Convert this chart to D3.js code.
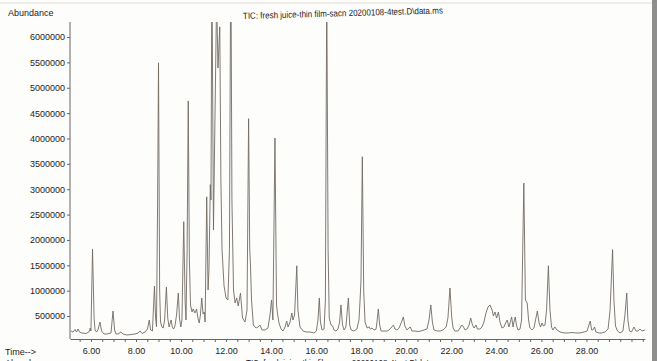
<!DOCTYPE html>
<html><head><meta charset="utf-8">
<script src="https://cdn.jsdelivr.net/npm/d3@7"></script>
<style>
body{margin:0;background:#fff}
svg{display:block}
text{font-family:"Liberation Sans",Arial,sans-serif;fill:#1c1c1c}
</style>
</head><body>
<svg id="c" width="657" height="361"></svg>
<script>
const yLabel = "Abundance";
const xLabel = "Time-->";
const title = "TIC: fresh juice-thin film-sacn 20200108-4test.D\\data.ms";
const yTicks = [500000,1000000,1500000,2000000,2500000,3000000,3500000,4000000,4500000,5000000,5500000,6000000];
const xLabelTicks = [6,8,10,12,14,16,18,20,22,24,26,28];
const xMinorTicks = [5.5,6,6.5,7,7.5,8,8.5,9,9.5,10,10.5,11,11.5,12,12.5,13,13.5,14,14.5,15,15.5,16,16.5,17,17.5,18,18.5,19,19.5,20,20.5,21,21.5,22,22.5,23,23.5,24,24.5,25,25.5,26,26.5,27,27.5,28,28.5,29,29.5,30,30.5];

// retention time (min)
const times = [
5.11,5.20,5.29,5.36,5.43,5.49,5.60,5.78,5.91,5.97,6.00,6.07,6.14,6.18,6.25,6.31,6.40,6.47,6.58,6.71,
6.89,6.98,7.05,7.11,7.20,7.33,7.42,7.60,7.78,7.96,8.09,8.18,8.27,8.40,8.51,8.59,8.65,8.73,8.82,8.87,
8.91,8.96,9.00,9.05,9.09,9.15,9.21,9.27,9.35,9.41,9.47,9.52,9.56,9.61,9.67,9.73,9.80,9.88,9.93,9.99,
10.04,10.12,10.18,10.22,10.27,10.32,10.37,10.42,10.49,10.54,10.62,10.69,10.75,10.81,10.86,10.92,10.98,11.03,11.07,11.14,
11.20,11.24,11.30,11.33,11.37,11.44,11.58,11.64,11.72,11.77,11.82,11.91,12.00,12.08,12.15,12.21,12.26,12.33,12.40,12.47,
12.54,12.64,12.73,12.84,12.93,13.00,13.05,13.08,13.13,13.21,13.33,13.42,13.51,13.59,13.73,13.86,13.95,14.02,14.08,14.17,
14.24,14.28,14.35,14.44,14.53,14.62,14.69,14.75,14.84,14.92,14.97,15.04,15.14,15.19,15.28,15.42,15.55,15.73,15.90,16.01,
16.08,16.14,16.19,16.26,16.35,16.41,16.47,16.53,16.58,16.66,16.73,16.79,16.88,16.97,17.04,17.10,17.17,17.24,17.32,17.43,
17.49,17.55,17.68,17.81,17.90,17.95,17.99,18.05,18.11,18.17,18.26,18.35,18.41,18.48,18.57,18.66,18.70,18.76,18.82,18.88,
19.01,19.15,19.23,19.32,19.43,19.50,19.59,19.68,19.79,19.87,19.94,20.03,20.12,20.18,20.25,20.39,20.52,20.65,20.79,20.92,
21.01,21.09,21.16,21.23,21.37,21.50,21.63,21.77,21.85,21.94,22.02,22.08,22.16,22.30,22.39,22.46,22.54,22.61,22.70,22.79,
22.86,22.94,23.01,23.10,23.16,23.27,23.36,23.45,23.54,23.63,23.72,23.81,23.87,23.94,24.01,24.09,24.16,24.25,24.34,24.41,
24.48,24.56,24.63,24.68,24.74,24.78,24.84,24.89,24.96,25.05,25.12,25.22,25.29,25.37,25.43,25.49,25.58,25.67,25.74,25.82,
25.89,25.96,26.03,26.09,26.16,26.23,26.31,26.38,26.45,26.51,26.60,26.69,26.83,27.00,27.18,27.36,27.54,27.71,27.89,28.03,
28.11,28.17,28.23,28.29,28.36,28.42,28.56,28.69,28.82,28.96,29.05,29.16,29.22,29.29,29.38,29.49,29.62,29.71,29.79,29.84,
29.91,30.00,30.11,30.20,30.29,30.38,30.46,30.60
];
// total ion current abundance
const abundance = [
205000,185000,235000,185000,244000,185000,166000,156000,185000,264000,205000,1820000,461000,225000,185000,225000,382000,205000,146000,146000,
166000,599000,225000,146000,146000,185000,146000,126000,136000,146000,166000,205000,156000,185000,244000,422000,225000,205000,1092000,461000,
290000,2790000,5490000,1013000,382000,284000,264000,422000,1072000,461000,284000,363000,422000,284000,244000,304000,520000,954000,461000,284000,
422000,2360000,816000,422000,1810000,4740000,1610000,718000,580000,639000,560000,639000,461000,363000,520000,856000,540000,580000,382000,2850000,
1013000,1410000,3090000,2790000,7500000,2200000,6800000,5390000,6200000,3180000,1810000,1092000,856000,816000,1810000,8000000,2790000,1013000,757000,856000,
698000,954000,461000,382000,619000,4390000,1810000,1550000,816000,323000,264000,284000,323000,225000,225000,264000,520000,816000,422000,4010000,
718000,560000,363000,244000,205000,284000,402000,284000,382000,560000,422000,520000,1490000,619000,284000,205000,185000,185000,166000,205000,
422000,856000,382000,225000,244000,816000,7000000,1810000,461000,323000,304000,225000,205000,244000,382000,718000,323000,225000,284000,856000,
323000,225000,205000,244000,422000,816000,1210000,3640000,1013000,382000,264000,284000,244000,264000,225000,244000,382000,639000,323000,205000,
205000,205000,225000,264000,323000,244000,225000,264000,382000,481000,304000,225000,264000,284000,205000,205000,195000,205000,225000,244000,
422000,718000,382000,225000,205000,205000,225000,284000,461000,1053000,461000,264000,205000,205000,264000,323000,284000,225000,244000,323000,
461000,323000,264000,323000,244000,244000,284000,382000,560000,678000,718000,619000,501000,580000,461000,580000,382000,264000,284000,363000,
422000,284000,402000,481000,284000,382000,481000,323000,225000,244000,422000,3120000,816000,757000,422000,264000,225000,264000,422000,599000,
382000,284000,363000,304000,323000,619000,1490000,619000,284000,225000,284000,225000,185000,166000,166000,175000,166000,166000,185000,205000,
323000,402000,225000,225000,284000,185000,166000,166000,185000,244000,619000,1810000,816000,304000,205000,166000,205000,520000,954000,422000,
205000,185000,284000,205000,205000,244000,205000,225000
];

const svg = d3.select("#c");
const x = d3.scaleLinear().domain([5.07, 30.6]).range([70, 645]);
const y = d3.scaleLinear().domain([0, 6296000]).range([341.4, 22]);
const axisY = 339;

// page edge
svg.append("rect").attr("x",0).attr("y",0).attr("width",657).attr("height",361).attr("fill","#fdfdfc");
svg.append("rect").attr("x",652).attr("y",0).attr("width",5).attr("height",361).attr("fill","#8e8e8e");
svg.append("line").attr("x1",0).attr("x2",652).attr("y1",3).attr("y2",3).attr("stroke","#e4ddd6").attr("stroke-width",1);

svg.append("defs").append("clipPath").attr("id","clip")
  .append("rect").attr("x",70).attr("y",22).attr("width",580).attr("height",318);

// axes
const gy = svg.append("g").attr("transform","translate(70,0)")
  .call(d3.axisLeft(y).tickValues(yTicks).tickSize(3).tickSizeOuter(0).tickFormat(d3.format("d")));
gy.select(".domain").remove();
gy.append("line").attr("x1",0).attr("x2",0).attr("y1",22).attr("y2",axisY).attr("stroke","#666").attr("stroke-width",1);
gy.selectAll(".tick line").attr("stroke","#666");
gy.selectAll(".tick text").attr("font-size",9).attr("x",-5).style("fill","#1c1c1c");

const gx = svg.append("g").attr("transform",`translate(0,${axisY})`)
  .call(d3.axisBottom(x).tickValues(xMinorTicks).tickSize(3).tickSizeOuter(0)
    .tickFormat(d => xLabelTicks.includes(d) ? d3.format(".2f")(d) : ""));
gx.select(".domain").attr("stroke","#666");
gx.selectAll(".tick line").attr("stroke","#666");
gx.selectAll(".tick text").attr("font-size",9).attr("y",9).style("fill","#1c1c1c");

// trace
const pts = times.map((t,i)=>[t, abundance[i]]);
svg.append("path").datum(pts)
  .attr("clip-path","url(#clip)")
  .attr("fill","none").attr("stroke","#736b63").attr("stroke-width",0.9)
  .attr("stroke-linejoin","round")
  .attr("d", d3.line().x(d=>x(d[0])).y(d=>y(d[1])));

// texts
svg.append("text").attr("x",8).attr("y",16).attr("font-size",9).text(yLabel);
svg.append("text").attr("x",243).attr("y",19).attr("font-size",9)
  .attr("textLength",200).attr("lengthAdjust","spacingAndGlyphs")
  .attr("transform","rotate(-1.6,243,19)").text(title);
svg.append("text").attr("x",5).attr("y",355).attr("font-size",9).text(xLabel);
svg.append("text").attr("x",5).attr("y",366).attr("font-size",9).text(yLabel);
svg.append("text").attr("x",246).attr("y",366).attr("font-size",9)
  .attr("textLength",200).attr("lengthAdjust","spacingAndGlyphs").text(title);
</script>
</body></html>
